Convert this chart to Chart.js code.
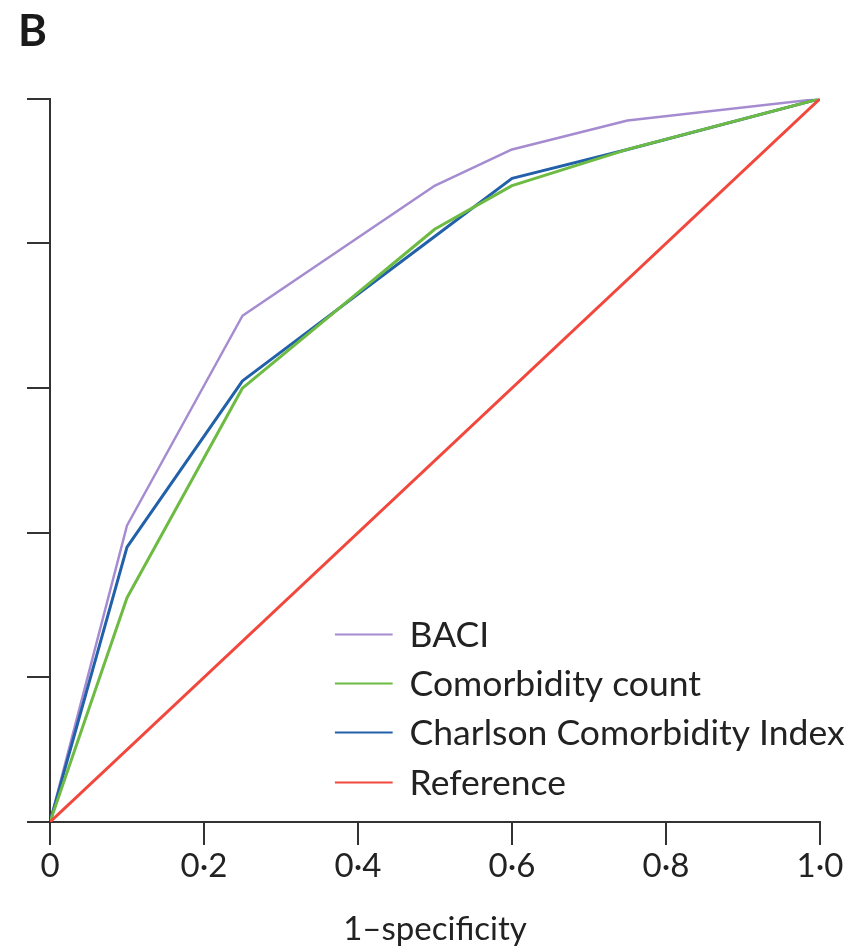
<!DOCTYPE html>
<html>
<head>
<meta charset="utf-8">
<script src="https://cdn.jsdelivr.net/npm/chart.js@4.4.1/dist/chart.umd.min.js"></script>
<style>
  html, body { margin: 0; padding: 0; background: #fff; }
  #wrap { width: 857px; height: 949px; }
</style>
</head>
<body>
<div id="wrap"><canvas id="rocChart" width="857" height="949"></canvas></div>
<script>
// values (1-specificity vs sensitivity)
const fpr = [0, 0.1, 0.25, 0.5, 0.6, 0.75, 1];
const baci = [0, 0.41, 0.70, 0.88, 0.93, 0.97, 1];
const comorbidityCount = [0, 0.31, 0.60, 0.82, 0.88, 0.93, 1];
const charlson = [0, 0.38, 0.61, 0.81, 0.89, 0.93, 1];
const refX = [0, 1];
const refY = [0, 1];

const seriesLabels = ['BACI', 'Comorbidity count', 'Charlson Comorbidity Index', 'Reference'];
const xTickLabels = ['0', '0·2', '0·4', '0·6', '0·8', '1·0'];

const FONT = 'Lato, "Open Sans", sans-serif';
const INK = '#333333';

const toPoints = (xs, ys) => xs.map((x, i) => ({ x: x, y: ys[i] }));

// legend drawn inside the plot, lower right
const innerLegend = {
    id: 'innerLegend',
    afterDatasetsDraw(chart) {
        const ctx = chart.ctx;
        const xs = chart.scales.x;
        const ys = chart.scales.y;
        const x1 = xs.getPixelForValue(0.37);
        const x2 = xs.getPixelForValue(0.445);
        const tx = xs.getPixelForValue(0.467);
        ctx.save();
        ctx.font = '35.5px ' + FONT;
        ctx.textBaseline = 'middle';
        chart.data.datasets.forEach((ds, i) => {
            const y = Math.round(ys.getPixelForValue(0.26 - i * 0.068)) + 0.5;
            ctx.strokeStyle = ds.borderColor;
            ctx.lineWidth = 2;
            ctx.beginPath();
            ctx.moveTo(x1, y);
            ctx.lineTo(x2, y);
            ctx.stroke();
            ctx.fillStyle = '#222';
            ctx.fillText(ds.label, tx, y + 1);
        });
        ctx.restore();
    }
};

new Chart(document.getElementById('rocChart'), {
    type: 'line',
    data: {
        datasets: [{
            label: seriesLabels[0],
            data: toPoints(fpr, baci),
            borderColor: '#a58bd0',
            borderWidth: 2.5,
            order: 3
        }, {
            label: seriesLabels[1],
            data: toPoints(fpr, comorbidityCount),
            borderColor: '#6dbb43',
            borderWidth: 3,
            order: 1
        }, {
            label: seriesLabels[2],
            data: toPoints(fpr, charlson),
            borderColor: '#2261a9',
            borderWidth: 3,
            order: 2
        }, {
            label: seriesLabels[3],
            data: toPoints(refX, refY),
            borderColor: '#f2473c',
            borderWidth: 3,
            order: 0
        }]
    },
    options: {
        responsive: false,
        animation: false,
        events: [],
        elements: {
            point: { radius: 0 },
            line: { tension: 0, borderJoinStyle: 'round' }
        },
        layout: {
            padding: { left: 18, top: 5, right: 37, bottom: 0 }
        },
        plugins: {
            legend: { display: false },
            tooltip: { enabled: false },
            title: {
                display: true,
                text: 'B',
                align: 'start',
                color: '#1a1a1a',
                font: { family: FONT, size: 44, weight: 'bold', lineHeight: 1.2 },
                padding: { top: 0, bottom: 41 }
            }
        },
        scales: {
            x: {
                type: 'linear',
                min: 0,
                max: 1,
                afterFit: s => { s.height = 127; },
                ticks: {
                    stepSize: 0.2,
                    padding: 2,
                    color: '#222',
                    font: { family: FONT, size: 33 },
                    maxRotation: 0,
                    callback: (v, i) => xTickLabels[i]
                },
                grid: {
                    drawOnChartArea: false,
                    color: INK,
                    lineWidth: 2,
                    tickLength: 23
                },
                border: { color: INK, width: 2 },
                title: {
                    display: true,
                    text: '1–specificity',
                    color: '#222',
                    font: { family: FONT, size: 33 },
                    padding: { top: 0, bottom: 0 }
                }
            },
            y: {
                type: 'linear',
                min: 0,
                max: 1,
                afterFit: s => { s.width = 32; },
                ticks: { stepSize: 0.2, display: false },
                grid: {
                    drawOnChartArea: false,
                    color: INK,
                    lineWidth: 2,
                    tickLength: 23
                },
                border: { color: INK, width: 2 }
            }
        }
    },
    plugins: [innerLegend]
});
</script>
</body>
</html>
